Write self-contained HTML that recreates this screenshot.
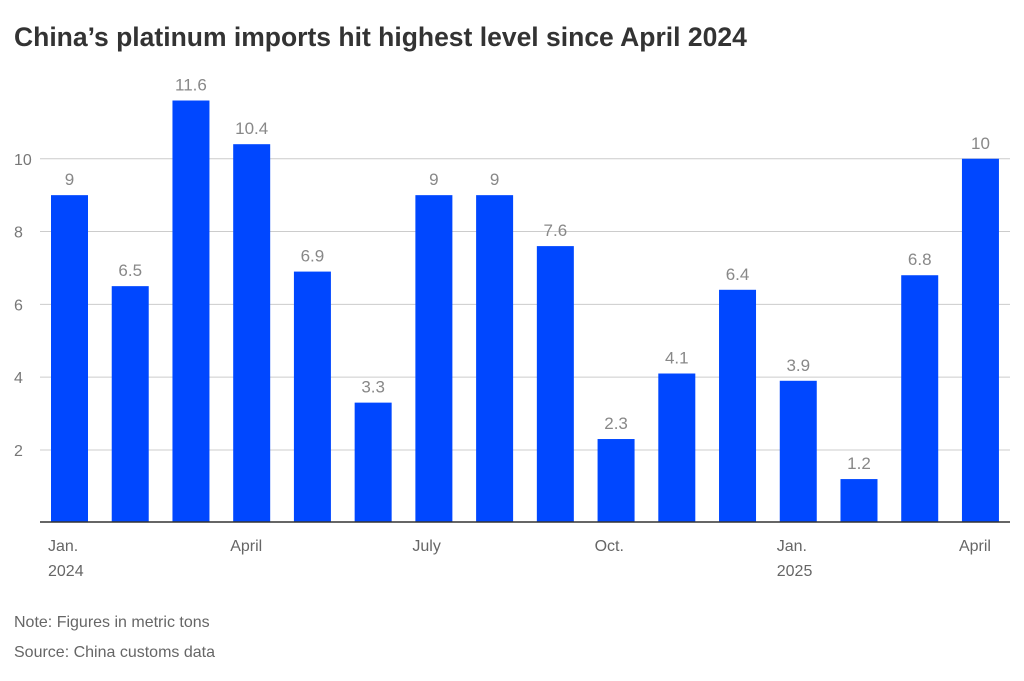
<!DOCTYPE html>
<html><head><meta charset="utf-8"><style>
body{margin:0;background:#fff;width:1024px;height:676px;overflow:hidden;font-family:"Liberation Sans",sans-serif}
</style></head><body>
<svg width="1024" height="676" id="svg">
<text x="14" y="46" font-size="26.5" font-weight="bold" fill="#333">China’s platinum imports hit highest level since April 2024</text>
<text x="14" y="627" font-size="16" fill="#666">Note: Figures in metric tons</text>
<text x="14" y="657" font-size="16" fill="#666">Source: China customs data</text>
</svg>
<script>
const values=[9,6.5,11.6,10.4,6.9,3.3,9,9,7.6,2.3,4.1,6.4,3.9,1.2,6.8,10];
const valueLabels=["9","6.5","11.6","10.4","6.9","3.3","9","9","7.6","2.3","4.1","6.4","3.9","1.2","6.8","10"];
const yTicks=[2,4,6,8,10];
const xLabels=[["Jan.","2024"],[],[],["April"],[],[],["July"],[],[],["Oct."],[],[],["Jan.","2025"],[],[],["April"]];
const svg=document.getElementById('svg');
const NS="http://www.w3.org/2000/svg";
const y0=522.75, k=36.4;
const y=v=>y0-v*k;
const x=i=>51+i*60.73;
function mk(t,a,p){const e=document.createElementNS(NS,t);for(const n in a)e.setAttribute(n,a[n]);(p||svg).appendChild(e);return e;}
yTicks.forEach(t=>{
  const l=mk('line',{x1:40,x2:1010,y1:y(t),y2:y(t),stroke:'#ccc','stroke-width':1});
  
  
  const tx=mk('text',{x:14,y:y(t)+6,'font-size':16,fill:'#777'});tx.textContent=t;
  
  
});
values.forEach((v,i)=>{
  const r=mk('rect',{x:x(i),y:y(v),width:37,height:y0-y(v)-1,fill:'#0047ff'});
  
  
  const t=mk('text',{x:x(i)+18.5,y:y(v)-10,'font-size':17,fill:'#888','text-anchor':'middle'});t.textContent=valueLabels[i];
  
  
  xLabels[i].forEach((s,j)=>{
    const xl=mk('text',{x:x(i)-3,y:551+j*25,'font-size':16,fill:'#666'});xl.textContent=s;
    
    
  });
});
const ax=mk('line',{x1:40,x2:1010,y1:522,y2:522,stroke:'#333','stroke-width':1.5});


</script>
</body></html>
